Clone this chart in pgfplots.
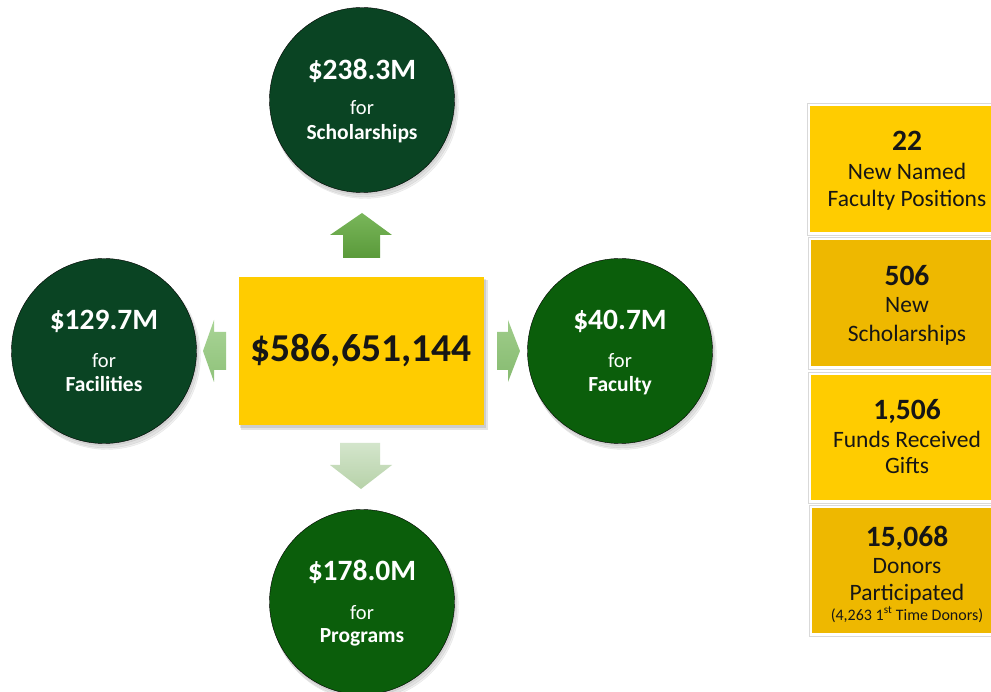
\documentclass[border=0pt]{standalone}
\usepackage{pgfplots}
\pgfplotsset{compat=1.18}
\usepackage{fontspec}
\setmainfont{Carlito}
\definecolor{darkg}{HTML}{0A4423}
\definecolor{midg}{HTML}{0B5E0B}
\definecolor{gold}{HTML}{FFCC00}
\definecolor{gold2}{HTML}{EEB800}
\definecolor{txt}{HTML}{161616}
\definecolor{upT}{HTML}{79B65A}
\definecolor{upB}{HTML}{5A9A3A}
\definecolor{rtT}{HTML}{9FCC8A}
\definecolor{rtB}{HTML}{86BB70}
\definecolor{ltT}{HTML}{A9D496}
\definecolor{ltB}{HTML}{8FC27A}
\definecolor{dnT}{HTML}{D3E5CB}
\definecolor{dnB}{HTML}{B7D2A9}
\pgfplotsset{
  lbl/.style 2 args={only marks, mark=none, nodes near coords, point meta=explicit symbolic,
    nodes near coords style={anchor=base, inner sep=0pt, outer sep=0pt, text=#1, font=#2}},
  circ/.style={only marks, mark=*, mark size=92.5pt, mark options={fill=#1, draw=none}},
  shad/.style={only marks, mark=*, mark size=#1, mark options={fill=black, draw=none, opacity=0.06}},
}
\begin{document}
\begin{tikzpicture}
\begin{axis}[width=991pt, height=692pt, scale only axis,
  xmin=0, xmax=991, ymin=0, ymax=692, y dir=reverse, hide axis,
  clip=true, clip marker paths=true]
% background
\addplot[fill=white, draw=none] coordinates {(0,0)(991,0)(991,692)(0,692)} -- cycle;
% circle shadows
\addplot[shad=93.5pt] coordinates {(365,105)(107,356)(623,356)(365,607)};
\addplot[shad=93pt] coordinates {(364,104)(106,355)(622,355)(364,606)};
\addplot[shad=92.5pt] coordinates {(363,102)(105,353)(621,353)(363,604)};
% circles
\addplot[circ=darkg] coordinates {(362,100)(104,351)};
\addplot[circ=midg] coordinates {(620,351)(362,602)};
% centre rectangle shadow + rectangle
\addplot[fill=black, opacity=0.10, draw=none] coordinates {(241,280)(488,280)(488,430)(241,430)} -- cycle;
\addplot[fill=black, opacity=0.10, draw=none] coordinates {(240,279)(486,279)(486,428)(240,428)} -- cycle;
\addplot[fill=gold, draw=none] coordinates {(239,277)(484,277)(484,425)(239,425)} -- cycle;
% arrows
\addplot[draw=none, top color=upT, bottom color=upB] coordinates {(343,258)(380,258)(380,235)(392,235)(362,213)(330,235)(343,235)} -- cycle;
\addplot[draw=none, top color=rtT, bottom color=rtB] coordinates {(497,332)(508,332)(508,320)(520,351)(508,382)(508,370)(497,370)} -- cycle;
\addplot[draw=none, top color=ltT, bottom color=ltB] coordinates {(226,332)(214,332)(214,320)(203,351)(214,382)(214,370)(226,370)} -- cycle;
\addplot[draw=none, top color=dnT, bottom color=dnB] coordinates {(340,443)(380,443)(380,465)(392,465)(361,489)(330,465)(340,465)} -- cycle;
% right boxes: frames and fills
\addplot[draw=gray!30, line width=0.8pt] coordinates {(807,103)(996,103)(996,235)(807,235)} -- cycle;
\addplot[fill=gold, draw=none] coordinates {(810,106)(996,106)(996,232)(810,232)} -- cycle;
\addplot[draw=gray!30, line width=0.8pt] coordinates {(808,237)(996,237)(996,369)(808,369)} -- cycle;
\addplot[fill=gold2, draw=none] coordinates {(811,240)(996,240)(996,366)(811,366)} -- cycle;
\addplot[draw=gray!30, line width=0.8pt] coordinates {(808,372)(996,372)(996,503)(808,503)} -- cycle;
\addplot[fill=gold, draw=none] coordinates {(811,375)(996,375)(996,500)(811,500)} -- cycle;
\addplot[draw=gray!30, line width=0.8pt] coordinates {(809,505)(996,505)(996,636)(809,636)} -- cycle;
\addplot[fill=gold2, draw=none] coordinates {(812,508)(996,508)(996,633)(812,633)} -- cycle;
% texts in circles
\addplot[lbl={white}{\bfseries\fontsize{29.5}{29.5}\selectfont}] coordinates {(362,80) [\$238.3M] (104,330) [\$129.7M] (620,330) [\$40.7M] (362,580) [\$178.0M]};
\addplot[lbl={white}{\fontsize{20.5}{20.5}\selectfont}] coordinates {(362,115) [for] (104,368) [for] (620,368) [for] (362,619) [for]};
\addplot[lbl={white}{\bfseries\fontsize{21.5}{21.5}\selectfont}] coordinates {(362,140) [Scholarships] (104,392) [Facilities] (620,392) [Faculty] (362,642) [Programs]};
% centre total
\addplot[lbl={txt}{\bfseries\fontsize{39.5}{39.5}\selectfont}] coordinates {(361,362) [{\$586,651,144}]};
% right boxes texts
\addplot[lbl={txt}{\bfseries\fontsize{29.5}{29.5}\selectfont}] coordinates {(907,151) [22] (907,286) [506] (907,420) [{1,506}] (907,546) [{15,068}]};
\addplot[lbl={txt}{\fontsize{23.5}{23.5}\selectfont}] coordinates {(907,180) [New Named] (907,207) [Faculty Positions] (907,313) [New] (907,342) [Scholarships] (907,448) [Funds Received] (907,474) [Gifts] (907,573) [Donors] (907,600) [Participated]};
\addplot[lbl={txt}{\fontsize{16}{16}\selectfont}] coordinates {(907,620) [{(4,263 1\textsuperscript{st} Time Donors)}]};
\end{axis}
\end{tikzpicture}
\end{document}
